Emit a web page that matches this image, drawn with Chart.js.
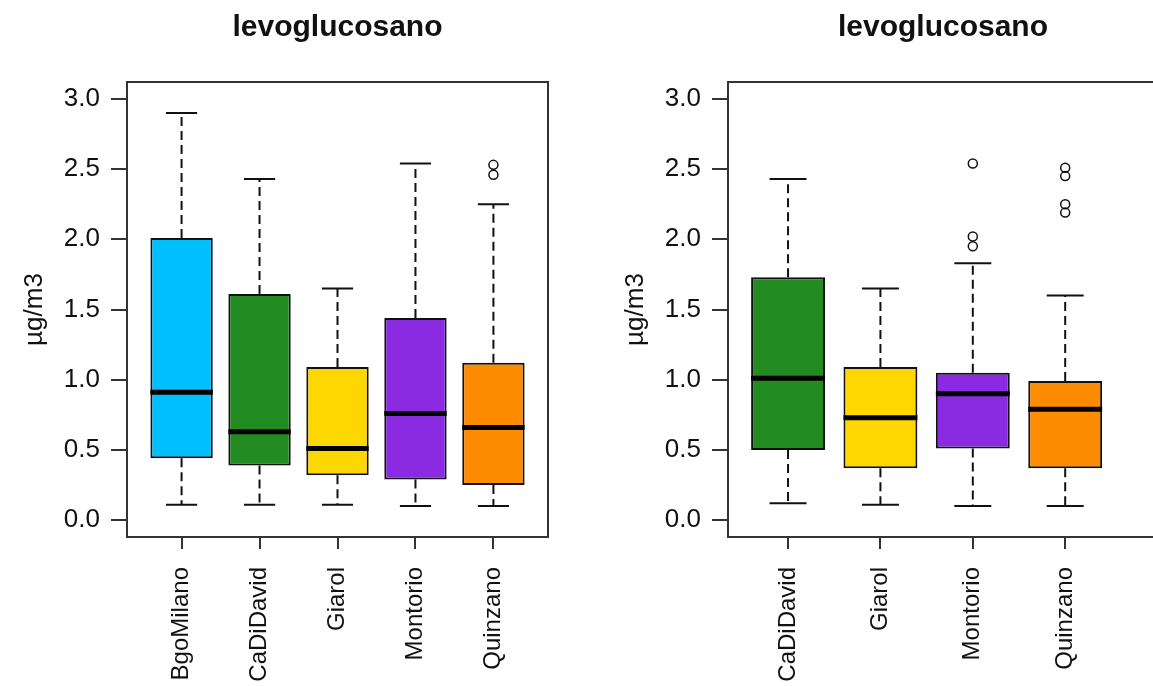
<!DOCTYPE html>
<html>
<head>
<meta charset="utf-8">
<script src="https://cdn.jsdelivr.net/npm/chart.js@4"></script>
<style>
  html, body { margin: 0; padding: 0; background: #fff; }
  body { width: 1153px; height: 686px; position: relative; overflow: hidden; }
  .panel { position: absolute; top: 0; }
</style>
</head>
<body>
<div class="panel" style="left:0"><canvas id="allSites" width="576" height="686"></canvas></div>
<div class="panel" style="left:576px"><canvas id="subSites" width="760" height="686"></canvas></div>
<script>
const titleText = 'levoglucosano';
const unitLabel = 'µg/m3';
const yTicks = [0, 0.5, 1, 1.5, 2, 2.5, 3];

// all five stations
const sitesAll = ['BgoMilano', 'CaDiDavid', 'Giarol', 'Montorio', 'Quinzano'];
const lowAll  = [0.11, 0.11, 0.11, 0.10, 0.10];
const q1All   = [0.44, 0.39, 0.32, 0.29, 0.25];
const medAll  = [0.91, 0.63, 0.51, 0.76, 0.66];
const q3All   = [2.01, 1.61, 1.09, 1.44, 1.12];
const highAll = [2.90, 2.43, 1.65, 2.54, 2.25];
const outAll  = [[], [], [], [], [2.53, 2.46]];

// same stations without BgoMilano
const sitesSub = ['CaDiDavid', 'Giarol', 'Montorio', 'Quinzano'];
const lowSub  = [0.12, 0.11, 0.10, 0.10];
const q1Sub   = [0.50, 0.37, 0.51, 0.37];
const medSub  = [1.01, 0.73, 0.90, 0.79];
const q3Sub   = [1.73, 1.09, 1.05, 0.99];
const highSub = [2.43, 1.65, 1.83, 1.60];
const outSub  = [[], [], [2.54, 2.02, 1.95], [2.51, 2.45, 2.25, 2.19]];

const siteColors = {
  BgoMilano: '#00BFFF',
  CaDiDavid: '#228B22',
  Giarol: '#FFD700',
  Montorio: '#8A2BE2',
  Quinzano: '#FF8C00'
};

const fontFamily = '"Liberation Sans", Arial, sans-serif';
const ink = '#111';
const lineInk = '#333';

// whiskers, staples, medians and the plot frame
const boxPlot = {
  id: 'boxPlot',
  beforeDatasetsDraw(chart, args, opts) {
    const { ctx } = chart;
    const xs = chart.scales.x, ys = chart.scales.y;
    const bars = chart.getDatasetMeta(0).data;
    ctx.save();
    ctx.strokeStyle = ink;
    ctx.lineWidth = 2;
    opts.low.forEach((lo, i) => {
      const x = xs.getPixelForValue(i + 1);
      const half = bars[i].width / 4;
      const ends = [[opts.q3[i], opts.high[i]], [opts.q1[i], lo]];
      ends.forEach(([from, to]) => {
        ctx.setLineDash([9, 5]);
        ctx.beginPath();
        ctx.moveTo(x, ys.getPixelForValue(from));
        ctx.lineTo(x, ys.getPixelForValue(to));
        ctx.stroke();
        ctx.setLineDash([]);
        ctx.beginPath();
        ctx.moveTo(x - half, ys.getPixelForValue(to));
        ctx.lineTo(x + half, ys.getPixelForValue(to));
        ctx.stroke();
      });
    });
    ctx.restore();
  },
  afterDatasetsDraw(chart, args, opts) {
    const { ctx, chartArea } = chart;
    const xs = chart.scales.x, ys = chart.scales.y;
    const bars = chart.getDatasetMeta(0).data;
    ctx.save();
    ctx.strokeStyle = '#000';
    ctx.lineWidth = 5;
    opts.med.forEach((m, i) => {
      const x = xs.getPixelForValue(i + 1);
      const half = bars[i].width / 2;
      const y = ys.getPixelForValue(m);
      ctx.beginPath();
      ctx.moveTo(x - half, y);
      ctx.lineTo(x + half, y);
      ctx.stroke();
    });
    ctx.strokeStyle = lineInk;
    ctx.lineWidth = 2;
    ctx.strokeRect(chartArea.left, chartArea.top, chartArea.right - chartArea.left, chartArea.bottom - chartArea.top);
    ctx.restore();
  }
};

function makeBoxChart(id, sites, low, q1, med, q3, high, outliers, cfg) {
  const outPoints = [];
  outliers.forEach((vals, i) => vals.forEach(v => outPoints.push({ x: i + 1, y: v })));

  return new Chart(document.getElementById(id), {
    type: 'bar',
    data: {
      datasets: [{
        type: 'bar',
        data: sites.map((s, i) => ({ x: i + 1, y: [q1[i], q3[i]] })),
        backgroundColor: sites.map(s => siteColors[s]),
        borderColor: ink,
        borderWidth: 2,
        borderSkipped: false,
        categoryPercentage: 0.8,
        barPercentage: 1,
        grouped: false
      }, {
        type: 'scatter',
        data: outPoints,
        pointStyle: 'circle',
        pointRadius: 4.5,
        borderWidth: 1.5,
        borderColor: ink,
        backgroundColor: 'rgba(0,0,0,0)'
      }]
    },
    options: {
      responsive: false,
      animation: false,
      events: [],
      layout: { padding: { left: 0, right: cfg.padRight, top: 0, bottom: 0 } },
      plugins: {
        legend: { display: false },
        tooltip: { enabled: false },
        title: {
          display: true,
          text: titleText,
          fullSize: cfg.titleFull,
          color: ink,
          font: { family: fontFamily, size: 30, weight: 'bold' },
          padding: { top: 10, bottom: 36 }
        },
        boxPlot: { low, q1, med, q3, high }
      },
      scales: {
        x: {
          type: 'linear',
          min: cfg.xMin,
          max: cfg.xMax,
          offset: false,
          afterBuildTicks: s => { s.ticks = sites.map((_, i) => ({ value: i + 1 })); },
          afterFit: s => { s.height = 149; },
          ticks: {
            color: ink,
            font: { family: fontFamily, size: 24 },
            minRotation: 90,
            maxRotation: 90,
            autoSkip: false,
            padding: 18,
            callback: v => sites[v - 1]
          },
          grid: { offset: false, drawOnChartArea: false, tickLength: 12, color: lineInk, lineWidth: 2 },
          border: { display: false }
        },
        y: {
          type: 'linear',
          min: -0.12,
          max: 3.12,
          afterBuildTicks: s => { s.ticks = yTicks.map(v => ({ value: v })); },
          afterFit: s => { s.width = cfg.yWidth; },
          ticks: {
            color: ink,
            font: { family: fontFamily, size: 26 },
            padding: 11,
            callback: v => v.toFixed(1)
          },
          grid: { drawOnChartArea: false, tickLength: 16, color: lineInk, lineWidth: 2 },
          border: { display: false },
          title: {
            display: true,
            text: unitLabel,
            color: ink,
            font: { family: fontFamily, size: 26 },
            padding: { top: cfg.yTitlePad, bottom: 0 }
          }
        }
      }
    },
    plugins: [boxPlot]
  });
}

makeBoxChart('allSites', sitesAll, lowAll, q1All, medAll, q3All, highAll, outAll,
  { xMin: 0.3, xMax: 5.7, yWidth: 127, padRight: 28, yTitlePad: 19, titleFull: false });
// right panel runs past the page edge, so its frame is open on the right
makeBoxChart('subSites', sitesSub, lowSub, q1Sub, medSub, q3Sub, highSub, outSub,
  { xMin: 0.35, xMax: 6.65, yWidth: 152, padRight: 26, yTitlePad: 44, titleFull: true });
</script>
</body>
</html>
